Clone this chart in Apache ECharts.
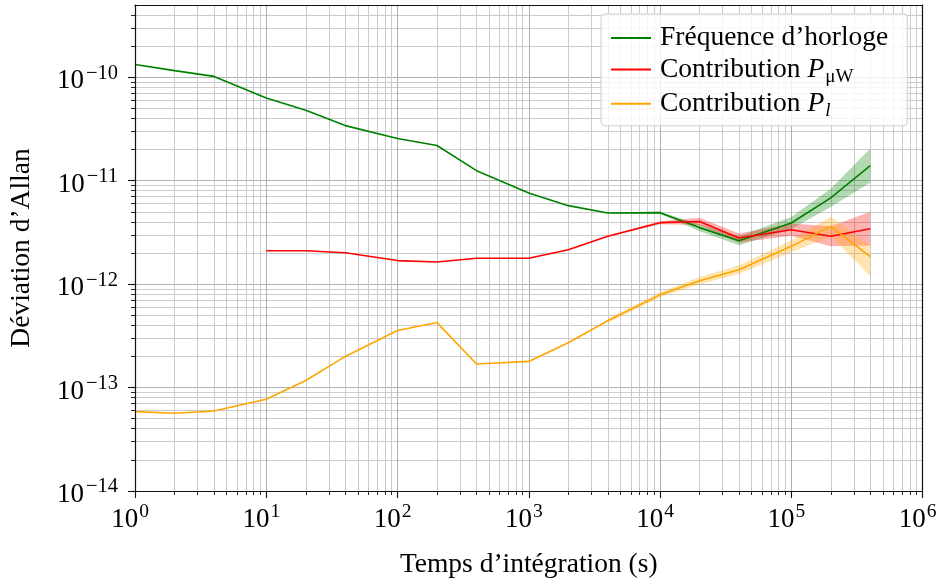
<!DOCTYPE html>
<html><head><meta charset="utf-8">
<script src="https://cdn.jsdelivr.net/npm/echarts@6/dist/echarts.min.js"></script>
<style>html,body{margin:0;padding:0;background:#fff}#c{width:940px;height:581px}</style>
</head><body><div id="c"></div>
<script>
// ---- data ----
const tau = [1,2,4,10,20,40,100,200,400,1000,2000,4000,10000,20000,40000,100000,200000,400000];
const clockDev = [1.33e-10,1.16e-10,1.02e-10,6.32e-11,4.80e-11,3.41e-11,2.56e-11,2.19e-11,1.25e-11,7.62e-12,5.74e-12,4.88e-12,4.91e-12,3.52e-12,2.63e-12,3.90e-12,6.83e-12,1.40e-11];
const tauMw = [10,20,40,100,200,400,1000,2000,4000,10000,20000,40000,100000,200000,400000];
const mwDev = [2.10e-12,2.10e-12,2.01e-12,1.69e-12,1.64e-12,1.78e-12,1.78e-12,2.15e-12,2.90e-12,3.93e-12,4.04e-12,2.79e-12,3.36e-12,2.90e-12,3.43e-12];
const laserDev = [5.86e-14,5.65e-14,5.94e-14,7.72e-14,1.17e-13,2.00e-13,3.56e-13,4.25e-13,1.69e-13,1.79e-13,2.71e-13,4.42e-13,7.88e-13,1.08e-12,1.38e-12,2.32e-12,3.62e-12,1.85e-12];
const bandTau = [4000,10000,20000,40000,100000,200000,400000];
const clockLo = [4.83e-12,4.80e-12,3.25e-12,2.38e-12,3.41e-12,5.57e-12,9.60e-12];
const clockHi = [4.93e-12,5.02e-12,3.80e-12,2.91e-12,4.47e-12,8.34e-12,2.05e-11];
const mwLo = [2.85e-12,3.80e-12,3.74e-12,2.53e-12,2.94e-12,2.32e-12,2.36e-12];
const mwHi = [2.95e-12,4.06e-12,4.38e-12,3.09e-12,3.85e-12,3.62e-12,5.02e-12];
const laserLo = [4.23e-13,7.46e-13,9.97e-13,1.25e-12,2.03e-12,2.90e-12,1.19e-12];
const laserHi = [4.62e-13,8.35e-13,1.17e-12,1.52e-12,2.65e-12,4.52e-12,2.37e-12];
const seriesNames = ['Fréquence d\u2019horloge', 'Contribution P\u03bcW', 'Contribution Pl'];
const xMajor = [1,10,100,1000,10000,100000,1000000];
const yMajor = [1e-14,1e-13,1e-12,1e-11,1e-10];
const xLimits = [1, 1e6];
const yLimits = [1e-14, 5e-10];
const xTitle = 'Temps d\u2019intégration (s)';
const yTitle = 'Déviation d\u2019Allan';

// minor tick values 2..9 x 10^k
function minors(kFrom, kTo, maxV) {
  const out = [];
  for (let k = kFrom; k <= kTo; k++) for (let m = 2; m <= 9; m++) {
    const v = parseFloat((m * Math.pow(10, k)).toPrecision(3));
    if (v < maxV) out.push(v);
  }
  return out;
}
const xMinor = minors(0, 5, 1e6);
const yMinor = minors(-14, -10, 5e-10);

const FONT = 'Liberation Serif';
const chart = echarts.init(document.getElementById('c'), null, {renderer: 'canvas'});

function powLabel(v) {
  const e = Math.round(Math.log10(v));
  return '{b|10}{s|' + (e < 0 ? '\u2212' + (-e) : String(e)) + '}';
}
const yLabelRich = {
  b: {fontFamily: FONT, fontSize: 27, lineHeight: 27, color: '#000'},
  s: {fontFamily: FONT, fontSize: 20.5, lineHeight: 15, padding: [0, 0, 16, 2], color: '#000'}
};
const xLabelRich = {
  b: {fontFamily: FONT, fontSize: 27, lineHeight: 27, color: '#000'},
  s: {fontFamily: FONT, fontSize: 19.5, lineHeight: 15, padding: [0, 0, 16, 1], color: '#000'}
};
function axisBase(lim, extra) {
  return Object.assign({
    type: 'log', logBase: 10, min: lim[0], max: lim[1],
    axisLine: {show: false}, axisTick: {show: false}, axisLabel: {show: false},
    splitLine: {show: false}, minorTick: {show: false}, minorSplitLine: {show: false}
  }, extra);
}
const gridMajor = {color: '#b0b0b0', width: 1};
const gridMinor = {color: '#cbcbcb', width: 1};
const spine = {color: '#111', width: 1.2};

const xAxis = [
  axisBase(xLimits, {position: 'bottom', z: 0, axisTick: {show: false, customValues: xMajor.slice(1, -1)}, splitLine: {show: true, lineStyle: gridMajor}}),
  axisBase(xLimits, {position: 'bottom', z: 0, axisTick: {show: false, customValues: xMinor}, splitLine: {show: true, lineStyle: gridMinor}}),
  axisBase(xLimits, {position: 'bottom', z: 10,
    axisLine: {show: true, lineStyle: spine},
    axisTick: {show: true, customValues: xMajor, length: 7, lineStyle: {color: '#111', width: 1.1}},
    axisLabel: {show: true, customValues: xMajor, formatter: powLabel, margin: 15, padding: [0, 10, 0, 0], rich: xLabelRich},
    name: xTitle, nameLocation: 'middle', nameGap: 60,
    nameTextStyle: {fontFamily: FONT, fontSize: 27.5, color: '#000'}}),
  axisBase(xLimits, {position: 'bottom', z: 10, axisTick: {show: true, customValues: xMinor, length: 4, lineStyle: {color: '#111', width: 0.9}}}),
  axisBase(xLimits, {position: 'top', z: 10, axisLine: {show: true, lineStyle: spine}})
];
const yAxis = [
  axisBase(yLimits, {position: 'left', z: 0, axisTick: {show: false, customValues: yMajor.slice(1)}, splitLine: {show: true, lineStyle: gridMajor}}),
  axisBase(yLimits, {position: 'left', z: 0, axisTick: {show: false, customValues: yMinor}, splitLine: {show: true, lineStyle: gridMinor}}),
  axisBase(yLimits, {position: 'left', z: 10,
    axisLine: {show: true, lineStyle: spine},
    axisTick: {show: true, customValues: yMajor, length: 7, lineStyle: {color: '#111', width: 1.1}},
    axisLabel: {show: true, customValues: yMajor, formatter: powLabel, margin: 17, padding: [8, 0, 0, 0], rich: yLabelRich},
    name: yTitle, nameLocation: 'middle', nameGap: 99,
    nameTextStyle: {fontFamily: FONT, fontSize: 27.5, color: '#000'}}),
  axisBase(yLimits, {position: 'left', z: 10, axisTick: {show: true, customValues: yMinor, length: 4, lineStyle: {color: '#111', width: 0.9}}}),
  axisBase(yLimits, {position: 'right', z: 10, axisLine: {show: true, lineStyle: spine}})
];

function lineSeries(name, xs, ys, color) {
  return {
    name: name, type: 'line', xAxisIndex: 2, yAxisIndex: 2, z: 3,
    data: xs.map((x, i) => [x, ys[i]]),
    showSymbol: false, symbol: 'none', silent: true, animation: false,
    lineStyle: {color: color, width: 1.6}, itemStyle: {color: color}
  };
}
function bandSeries(xs, lo, hi, color) {
  return {
    type: 'custom', xAxisIndex: 2, yAxisIndex: 2, z: 3, silent: true, animation: false,
    data: xs.map((x, i) => [x, lo[i], hi[i]]),
    encode: {x: 0, y: [1, 2]},
    renderItem: function (params, api) {
      if (params.dataIndex !== 0) return null;
      const pts = [];
      for (let i = 0; i < xs.length; i++) pts.push(api.coord([xs[i], hi[i]]));
      for (let i = xs.length - 1; i >= 0; i--) pts.push(api.coord([xs[i], lo[i]]));
      return {type: 'polygon', shape: {points: pts}, style: {fill: color, opacity: 0.3, stroke: null}};
    }
  };
}

const legendRich = {
  t: {fontFamily: FONT, fontSize: 27.5, lineHeight: 28, color: '#000'},
  i: {fontFamily: FONT, fontSize: 27.5, lineHeight: 28, fontStyle: 'italic', color: '#000'},
  s: {fontFamily: FONT, fontSize: 19, lineHeight: 12, padding: [15, 0, 0, 1], color: '#000'},
  si: {fontFamily: FONT, fontSize: 19, lineHeight: 12, padding: [15, 0, 0, 1], fontStyle: 'italic', color: '#000'}
};

chart.setOption({
  animation: false,
  backgroundColor: '#fff',
  grid: {left: 135, right: 17.5, top: 5, bottom: 90, containLabel: false, outerBoundsMode: 'none'},
  xAxis: xAxis,
  yAxis: yAxis,
  legend: {
    data: seriesNames, orient: 'vertical', left: 601, top: 14,
    itemWidth: 40, itemHeight: 2, icon: 'rect', itemGap: 0.4,
    padding: [10, 19, 5, 10], selectedMode: false,
    backgroundColor: 'rgba(255,255,255,0.8)', borderColor: '#cccccc', borderWidth: 1, borderRadius: 4,
    textStyle: {fontFamily: FONT, fontSize: 27.5, color: '#000', padding: [0, 0, 0, 4], rich: legendRich},
    formatter: function (name) {
      if (name === seriesNames[0]) return '{t|' + name + '}';
      if (name === seriesNames[1]) return '{t|Contribution }{i|P}{s|\u03bcW}';
      return '{t|Contribution }{i|P}{si|l}';
    }
  },
  series: [
    lineSeries(seriesNames[0], tau, clockDev, '#008000'),
    bandSeries(bandTau, clockLo, clockHi, '#008000'),
    lineSeries(seriesNames[1], tauMw, mwDev, '#ff0000'),
    bandSeries(bandTau, mwLo, mwHi, '#ff0000'),
    lineSeries(seriesNames[2], tau, laserDev, '#ffa500'),
    bandSeries(bandTau, laserLo, laserHi, '#ffa500')
  ]
});
</script></body></html>
